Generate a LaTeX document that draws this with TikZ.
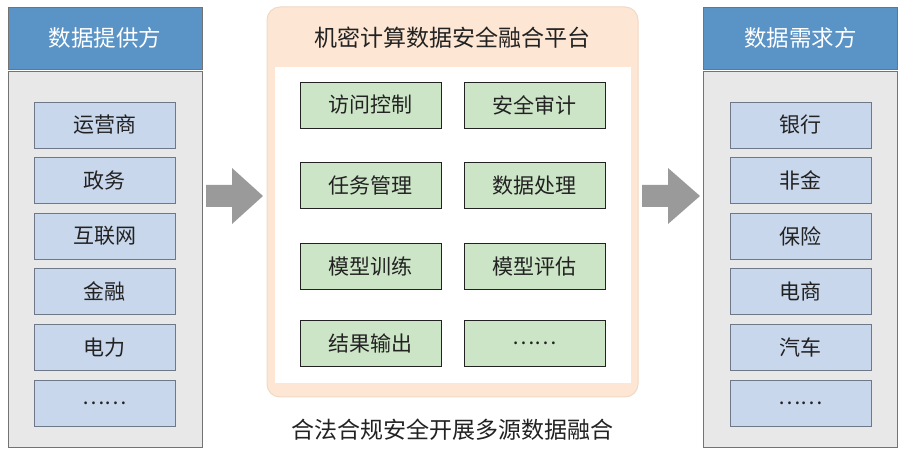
\documentclass[tikz,border=0pt]{standalone}
\usepackage{fontspec}
\setmainfont{Noto Sans CJK SC}
\usetikzlibrary{positioning}
\definecolor{hdrblue}{HTML}{5A93C6}
\definecolor{bodygray}{HTML}{E8E8E8}
\definecolor{bordgray}{HTML}{737373}
\definecolor{itemblue}{HTML}{C9D7EC}
\definecolor{itembord}{HTML}{6E7888}
\definecolor{peach}{HTML}{FDE7D4}
\definecolor{peachbord}{HTML}{F1D9C4}
\definecolor{greenfill}{HTML}{CDE5C7}
\definecolor{arrowgray}{HTML}{9A9A9A}
\definecolor{txt}{HTML}{222222}
\begin{document}
\begin{tikzpicture}[x=1pt,y=-1pt,
  hdr/.style={draw=bordgray,fill=hdrblue,line width=0.9pt,minimum width=194pt,minimum height=62pt,text=white,font=\fontsize{22.5}{26}\selectfont,inner sep=0pt},
  sidebody/.style={draw=bordgray,fill=bodygray,line width=0.9pt,minimum width=194pt,minimum height=376pt,inner sep=0pt},
  itembox/.style={draw=itembord,fill=itemblue,line width=0.9pt,minimum width=141pt,minimum height=46pt,text=txt,font=\fontsize{21}{24}\selectfont,inner sep=0pt},
  gbox/.style={draw=txt,fill=greenfill,line width=0.9pt,minimum width=141pt,minimum height=46pt,text=txt,font=\fontsize{21}{24}\selectfont,inner sep=0pt},
  bigarrow/.style={fill=arrowgray,draw=none}
]
\useasboundingbox (0,0) rectangle (906,454);
\fill[white] (0,0) rectangle (906,454);

% left column
\node[hdr] (lh) at (105,38) {数据提供方};
\node[sidebody] (lb) at (105,259) {};
\foreach \t [count=\i from 0] in {运营商,政务,互联网,金融,电力,……}{
  \node[itembox] (l\i) at (104.5,{125+55.6*\i}) {\t};
}

% right column
\node[hdr] (rh) at (800.5,38) {数据需求方};
\node[sidebody] (rb) at (800.5,259) {};
\foreach \t [count=\i from 0] in {银行,非金,保险,电商,汽车,……}{
  \node[itembox] (r\i) at (800.5,{125+55.6*\i}) {\t};
}

% center platform
\node[draw=peachbord,fill=peach,line width=1pt,rounded corners=13pt,minimum width=371pt,minimum height=390pt,inner sep=0pt] (plat) at (452.5,202) {};
\node[text=txt,font=\fontsize{23}{26}\selectfont] (ptitle) at (452.5,38) {机密计算数据安全融合平台};
\node[fill=white,draw=none,minimum width=356pt,minimum height=316pt,inner sep=0pt] (pin) at (452.5,225) {};
\node[gbox] (g1) at (370.5,105) {访问控制};
\node[gbox] (g2) at (534.5,105) {安全审计};
\node[gbox] (g3) at (370.5,185.5) {任务管理};
\node[gbox] (g4) at (534.5,185.5) {数据处理};
\node[gbox] (g5) at (370.5,266.5) {模型训练};
\node[gbox] (g6) at (534.5,266.5) {模型评估};
\node[gbox] (g7) at (370.5,343) {结果输出};
\node[gbox] (g8) at (534.5,343) {……};

\node[text=txt,font=\fontsize{23}{26}\selectfont] (cap) at (452.5,430) {合法合规安全开展多源数据融合};

% arrows
\fill[bigarrow] (206,185) -- (232,185) -- (232,168) -- (263,196) -- (232,224) -- (232,207) -- (206,207) -- cycle;
\fill[bigarrow] (642,185) -- (668,185) -- (668,168) -- (700,196) -- (668,224) -- (668,207) -- (642,207) -- cycle;
\end{tikzpicture}
\end{document}
